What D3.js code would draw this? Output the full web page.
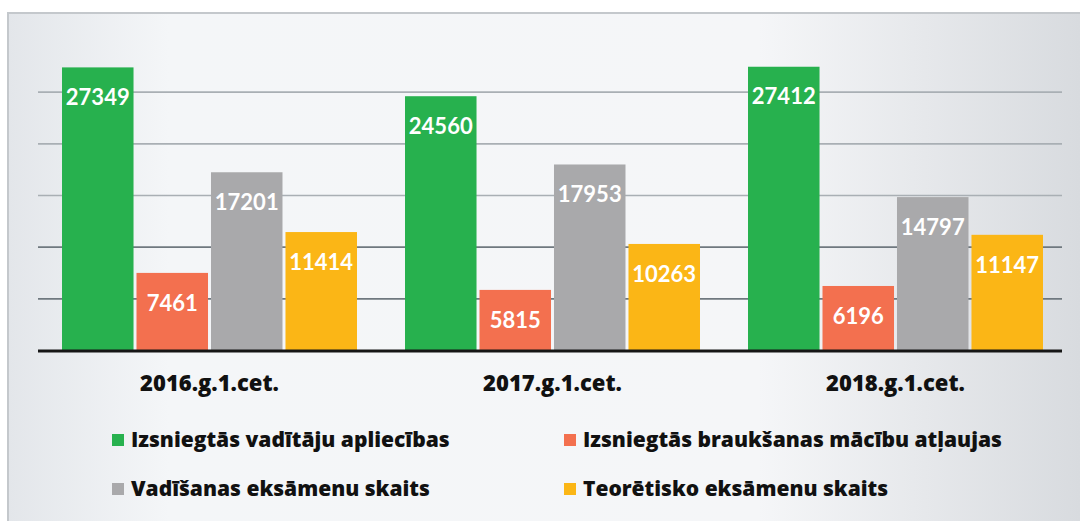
<!DOCTYPE html>
<html lang="lv">
<head>
<meta charset="UTF-8">
<title>Chart</title>
<script src="https://d3js.org/d3.v7.min.js"></script>
<style>
  html, body { margin: 0; padding: 0; background: #fff; overflow: hidden; }
</style>
</head>
<body>
<svg id="chart"></svg>
<script>
  const categories = ['2016.g.1.cet.', '2017.g.1.cet.', '2018.g.1.cet.'];
  const seriesNames = [
    'Izsniegtās vadītāju apliecības',
    'Izsniegtās braukšanas mācību atļaujas',
    'Vadīšanas eksāmenu skaits',
    'Teorētisko eksāmenu skaits'
  ];
  const licences = [27349, 24560, 27412];
  const permits = [7461, 5815, 6196];
  const drivingExams = [17201, 17953, 14797];
  const theoryExams = [11414, 10263, 11147];
  const gridTicks = [5000, 10000, 15000, 20000, 25000];
  const colors = ['#27b14e', '#f3704f', '#a9a9ab', '#fbb616'];

  const width = 1080, height = 521;
  const svg = d3.select('#chart').attr('width', width).attr('height', height);

  // scanned-looking background
  const defs = svg.append('defs');
  const grad = defs.append('linearGradient').attr('id', 'bg').attr('x1', 0).attr('x2', 1).attr('y1', 0).attr('y2', 0);
  grad.append('stop').attr('offset', '0%').attr('stop-color', '#e3e6ea');
  grad.append('stop').attr('offset', '15%').attr('stop-color', '#f4f6f8');
  grad.append('stop').attr('offset', '70%').attr('stop-color', '#f5f6f8');
  grad.append('stop').attr('offset', '100%').attr('stop-color', '#d8dbdf');
  svg.append('rect').attr('x', 8).attr('y', 13).attr('width', width - 8).attr('height', height - 13)
    .attr('fill', 'url(#bg)');
  svg.append('path').attr('d', `M8,${height}V13H${width}`).attr('fill', 'none')
    .attr('stroke', '#c4c8cc').attr('stroke-width', 2);

  const series = [licences, permits, drivingExams, theoryExams];
  const data = categories.map((c, i) => ({
    cat: c,
    vals: series.map((s, j) => ({ key: seriesNames[j], value: s[i], color: colors[j] }))
  }));

  const x0 = d3.scaleBand().domain(categories).range([38, 1067]).paddingInner(0.14).paddingOuter(0.07);
  const x1 = d3.scaleBand().domain(seriesNames).range([0, x0.bandwidth()]).paddingInner(0.04);
  const y = d3.scaleLinear().domain([0, 30000]).range([350, 40]);

  // gridlines
  svg.append('g')
    .attr('transform', 'translate(38,0)')
    .call(d3.axisLeft(y).tickValues(gridTicks).tickSize(-(1062 - 38)).tickFormat(''))
    .call(g => g.select('.domain').remove())
    .call(g => g.selectAll('line').attr('stroke', d => d <= 10000 ? '#6f787f' : '#a9afb4').attr('stroke-width', 1.6));

  const groups = svg.append('g').selectAll('g').data(data).join('g')
    .attr('transform', d => `translate(${x0(d.cat)},0)`);

  groups.selectAll('rect').data(d => d.vals).join('rect')
    .attr('x', d => x1(d.key))
    .attr('y', d => y(d.value))
    .attr('width', x1.bandwidth())
    .attr('height', d => y(0) - y(d.value))
    .attr('fill', d => d.color);

  groups.selectAll('text.val').data(d => d.vals).join('text')
    .attr('class', 'val')
    .attr('x', d => x1(d.key) + x1.bandwidth() / 2)
    .attr('y', d => y(d.value) + 30)
    .attr('dy', '0.35em')
    .attr('text-anchor', 'middle')
    .attr('fill', '#fff')
    .style('font-family', 'Lato, sans-serif')
    .style('font-size', '22px')
    .style('font-weight', 700)
    .text(d => d.value);

  // baseline
  svg.append('line').attr('x1', 38).attr('x2', 1062).attr('y1', y(0) + 1).attr('y2', y(0) + 1)
    .attr('stroke', '#161616').attr('stroke-width', 3);

  // category labels
  const xAxis = svg.append('g').attr('transform', `translate(0,${y(0)})`)
    .call(d3.axisBottom(x0).tickSize(0).tickPadding(25));
  xAxis.select('.domain').remove();
  xAxis.selectAll('text')
    .style('font-family', '"Open Sans", sans-serif')
    .style('font-size', '22px')
    .style('font-weight', 800)
    .attr('fill', '#111');

  // legend
  const legendPos = [[112, 440], [564, 440], [112, 489], [564, 489]];
  const legend = svg.append('g').selectAll('g').data(seriesNames).join('g')
    .attr('transform', (d, i) => `translate(${legendPos[i][0]},${legendPos[i][1]})`);
  legend.append('rect').attr('x', 0).attr('y', -6).attr('width', 12).attr('height', 12)
    .attr('fill', (d, i) => colors[i]);
  legend.append('text').attr('x', 19).attr('dy', '0.35em')
    .style('font-family', '"Open Sans", sans-serif')
    .style('font-size', '21px').style('font-weight', 800).attr('fill', '#111')
    .text(d => d);
</script>
</body>
</html>
